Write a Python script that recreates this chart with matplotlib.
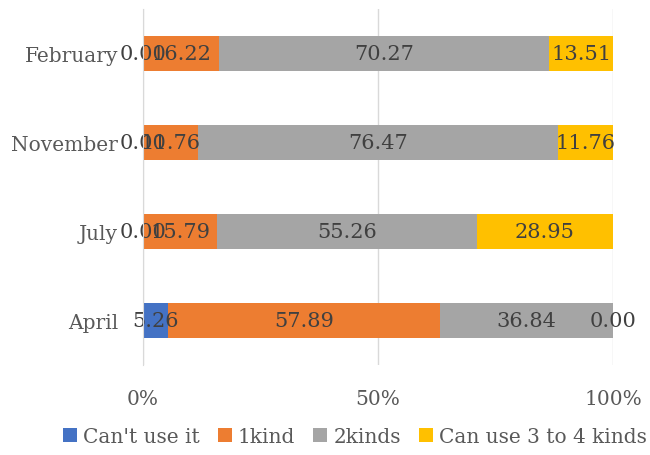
import matplotlib
matplotlib.use("Agg")
import matplotlib.pyplot as plt
import numpy as np

categories = ["April", "July", "November", "February"]
series_names = ["Can't use it", "1kind", "2kinds", "Can use 3 to 4 kinds"]
cant_use = [5.26, 0.00, 0.00, 0.00]
one_kind = [57.89, 15.79, 11.76, 16.22]
two_kinds = [36.84, 55.26, 76.47, 70.27]
three_four = [0.00, 28.95, 11.76, 13.51]
colors = ["#4472C4", "#ED7D31", "#A5A5A5", "#FFC000"]
xtick_labels = ["0%", "50%", "100%"]

plt.rcParams['font.family'] = ['DejaVu Serif']

fig = plt.figure(figsize=(6.5, 4.56), dpi=100)
ax = fig.add_axes([0.22, 0.197, 0.723, 0.781])

data = [cant_use, one_kind, two_kinds, three_four]
y = np.arange(len(categories))
left = np.zeros(len(categories))
for vals, name, c in zip(data, series_names, colors):
    vals = np.array(vals)
    ax.barh(y, vals, left=left, height=0.4, color=c, label=name, zorder=3)
    for yi, (l, v) in enumerate(zip(left, vals)):
        ax.text(l + v / 2, yi, f"{v:.2f}", ha="center", va="center",
                fontsize=15, color="#404040", zorder=4)
    left = left + vals

ax.set_xlim(0, 100)
ax.set_ylim(-0.5, len(categories) - 0.5)
ax.set_xticks([0, 50, 100])
ax.set_xticklabels(xtick_labels)
ax.set_yticks(y)
ax.set_yticklabels(categories)
ax.tick_params(axis='both', length=0, labelsize=14.5, labelcolor="#595959")
ax.tick_params(axis='x', pad=17)
ax.tick_params(axis='y', pad=18)
ax.grid(axis='x', color="#D9D9D9", linewidth=1, zorder=0)
for s in ["top", "right", "bottom"]:
    ax.spines[s].set_visible(False)
ax.spines["left"].set_color("#D9D9D9")
ax.spines["left"].set_zorder(5)

handles, labels = ax.get_legend_handles_labels()
leg = fig.legend(handles, labels, loc="center", bbox_to_anchor=(0.546, 0.04), ncol=4,
                 frameon=False, fontsize=14.5, handlelength=0.7, handleheight=0.7,
                 handletextpad=0.3, columnspacing=0.9)
for t in leg.get_texts():
    t.set_color("#595959")

fig.savefig("out.png", dpi=100)
